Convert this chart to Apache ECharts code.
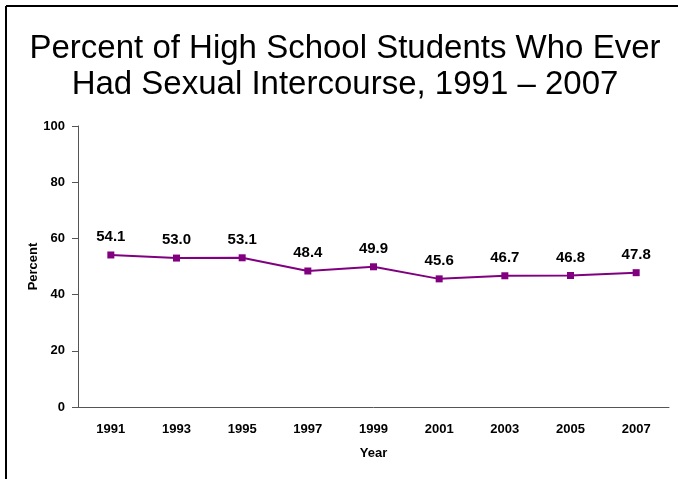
<!DOCTYPE html>
<html>
<head>
<meta charset="utf-8">
<script src="https://cdn.jsdelivr.net/npm/echarts@6/dist/echarts.min.js"></script>
<style>
  html, body { margin: 0; padding: 0; background: #fff; }
  #chart { width: 678px; height: 479px; }
</style>
</head>
<body>
<div id="chart"></div>
<script>
const years = ['1991', '1993', '1995', '1997', '1999', '2001', '2003', '2005', '2007'];
const percents = [54.1, 53.0, 53.1, 48.4, 49.9, 45.6, 46.7, 46.8, 47.8];

const chart = echarts.init(document.getElementById('chart'));
const option = {
  backgroundColor: '#fff',
  animation: false,
  graphic: [
    // frame on the left and top edges
    { type: 'line', shape: { x1: 6, y1: 6, x2: 6, y2: 479 }, style: { stroke: '#000', lineWidth: 2 } },
    { type: 'line', shape: { x1: 6, y1: 6, x2: 678, y2: 6 }, style: { stroke: '#000', lineWidth: 2 } }
  ],
  title: {
    text: 'Percent of High School Students Who Ever\nHad Sexual Intercourse, 1991 – 2007',
    left: 340,
    top: 26,
    textAlign: 'center',
    textStyle: {
      fontFamily: 'Liberation Sans, Arial, sans-serif',
      fontSize: 33,
      fontWeight: 'normal',
      color: '#000',
      lineHeight: 36,
      align: 'center'
    }
  },
  grid: { left: 78, right: 9, top: 126, bottom: 72 },
  xAxis: {
    type: 'category',
    data: years,
    name: 'Year',
    nameLocation: 'middle',
    nameGap: 40,
    nameTextStyle: { fontFamily: 'Liberation Sans, Arial', fontWeight: 'bold', fontSize: 13, color: '#000' },
    axisLine: { lineStyle: { color: '#555', width: 1 } },
    axisTick: { show: false },
    axisLabel: { fontFamily: 'Liberation Sans, Arial', fontWeight: 'bold', fontSize: 13, color: '#000', margin: 16 }
  },
  yAxis: {
    type: 'value',
    min: 0,
    max: 100,
    interval: 20,
    name: 'Percent',
    nameLocation: 'middle',
    nameGap: 38,
    nameRotate: 90,
    nameMoveOverlap: false,
    nameTextStyle: { fontFamily: 'Liberation Sans, Arial', fontWeight: 'bold', fontSize: 13, color: '#000' },
    splitLine: { show: false },
    axisLine: { show: true, lineStyle: { color: '#555', width: 1 } },
    axisTick: { show: true, length: 6, lineStyle: { color: '#555' } },
    axisLabel: { fontFamily: 'Liberation Sans, Arial', fontWeight: 'bold', fontSize: 13, color: '#000', margin: 13 }
  },
  series: [
    {
      type: 'line',
      data: percents,
      symbol: 'rect',
      symbolSize: 7,
      itemStyle: { color: '#800080' },
      lineStyle: { color: '#800080', width: 2 },
      label: {
        show: true,
        position: 'top',
        distance: 7,
        formatter: p => p.value.toFixed(1),
        fontFamily: 'Liberation Sans, Arial',
        fontWeight: 'bold',
        fontSize: 15,
        color: '#000'
      }
    }
  ]
};
chart.setOption(option);
</script>
</body>
</html>
